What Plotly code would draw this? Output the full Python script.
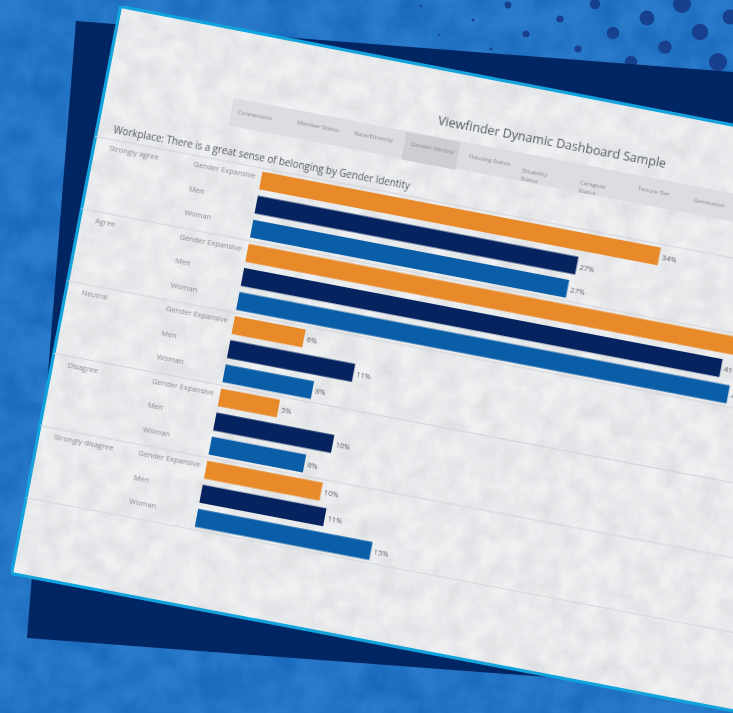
import plotly.graph_objects as go

W, H = 733, 713

responses = ["Strongly agree", "Agree", "Neutral", "Disagree", "Strongly disagree"]
genders = ["Gender Expansive", "Men", "Woman"]
gender_colors = ["#e8892a", "#04235f", "#0a5ea8"]
pct_strongly_agree = [33.8, 27.2, 26.8]
pct_agree = [45, 40.6, 41.6]
pct_neutral = [6, 10.6, 7.5]
pct_disagree = [5, 10, 8]
pct_strongly_disagree = [9.8, 10.5, 14.8]
pct_labels = ["34%", "27%", "27%", "45%", "41%", "42%", "6%", "11%", "8%", "5%", "10%", "8%", "10%", "11%", "15%"]
title_text = "Viewfinder Dynamic Dashboard Sample"
subtitle_text = "Workplace: There is a great sense of belonging by Gender Identity"
tab_labels = ["Connections", "Member Status", "Race/Ethnicity", "Gender Identity", "Housing Status",
              "Disability<br>Status", "Caregiver<br>Status", "Tenure Tier", "Generation"]
tab_u = [134, 194, 252, 310, 369, 424, 483, 541, 598]
tab_v = [76, 75, 75, 75, 76, 80, 81, 76, 77]

# background dots: page x, page y, radius
dot_x = [421, 473, 439, 491, 508, 560, 526, 578, 595, 647, 613, 665, 631, 682, 700, 718, 730]
dot_y = [6, 20, 35, 49, 5, 19, 34, 49, 4, 18, 33, 47, 62, 4, 32, 62, 17]
dot_r = [1.3, 1.5, 1.1, 1.6, 3.4, 3.6, 3.6, 3.6, 5.2, 7.5, 6.2, 6.6, 6.2, 9, 8.2, 9, 7.5]

values = pct_strongly_agree + pct_agree + pct_neutral + pct_disagree + pct_strongly_disagree
rows = [f"{r} | {g}" for r in responses for g in genders]
colors = [c for _ in responses for c in gender_colors]


def px(x):
    return x / W


def py(y):
    return 1 - y / H


def poly(points):
    return "M" + " L".join(f"{px(x):.5f},{py(y):.5f}" for x, y in points) + " Z"


X0, Y0, Y1 = 171, 132.7, 500.7   # plot area in the un-tilted card frame
SCALE = 12.0                     # px per percent
FONT = "Open Sans"
LABEL = "#8b8d90"

# ---- static backdrop, in page coordinates
shapes = [dict(type="rect", xref="paper", yref="paper", layer="below", x0=0, x1=1, y0=0, y1=1,
               fillcolor="#2a7ccb", line_width=0)]
for x, y, r in zip(dot_x, dot_y, dot_r):
    shapes.append(dict(type="circle", xref="paper", yref="paper", layer="below",
                       x0=px(x - r), x1=px(x + r), y0=py(y + r), y1=py(y - r),
                       fillcolor="#17418f", line_width=0))
shapes.append(dict(type="path", xref="paper", yref="paper", layer="below",
                   path=poly([(76, 21), (760, 74), (760, 693), (27, 638)]),
                   fillcolor="#002563", line_width=0))
shapes.append(dict(type="path", xref="paper", yref="paper", layer="below",
                   path=poly([(120.5, 6.5), (800, 138), (800, 723.5), (11.5, 573.5)]),
                   fillcolor="#eff0f2", line=dict(color="#0aa5e3", width=3.2)))

# ---- tilted with the card (paper refs here mean the un-tilted card frame)
shapes.append(dict(type="rect", xref="paper", yref="paper", layer="above",
                   x0=px(129), x1=px(733), y0=py(97), y1=py(69),
                   fillcolor="#dcdde0", line_width=0))
shapes.append(dict(type="rect", xref="paper", yref="paper", layer="above",
                   x0=px(305), x1=px(360), y0=py(98), y1=py(70),
                   fillcolor="#cdced1", line_width=0))
for sep in [-0.5, 2.5, 5.5, 8.5, 11.5, 14.5]:
    shapes.append(dict(type="line", xref="paper", yref="y", layer="above",
                       x0=0, x1=1, y0=sep, y1=sep,
                       line=dict(color="#d2d4d7", width=1)))

annotations = [
    dict(text=title_text, x=px(450), y=py(41.5), xref="paper", yref="paper", showarrow=False,
         font=dict(family=FONT, size=12.6, color="#575b61")),
    dict(text=subtitle_text, x=px(15), y=py(113), xref="paper", yref="paper", xanchor="left", showarrow=False,
         font=dict(family=FONT, size=9.9, color="#55595f")),
]
for i, r in enumerate(responses):
    annotations.append(dict(text=r, x=px(14), y=i * 3, yshift=4, xref="paper", yref="y", xanchor="left",
                            showarrow=False, font=dict(family=FONT, size=7.5, color=LABEL)))
for i, row in enumerate(rows):
    annotations.append(dict(text=genders[i % 3], x=px(100), y=i, yshift=4, xref="paper", yref="y", xanchor="left",
                            showarrow=False, font=dict(family=FONT, size=7.5, color=LABEL)))
for u, v, t in zip(tab_u, tab_v, tab_labels):
    annotations.append(dict(text=t, x=px(u), y=py(v), xref="paper", yref="paper", xanchor="left", align="left",
                            showarrow=False, font=dict(family=FONT, size=6, color="#8a8c90")))

fig = go.Figure(go.Bar(
    x=values, y=rows, orientation="h", marker=dict(color=colors, line_width=0),
    text=pct_labels, textposition="outside", cliponaxis=False, width=0.74,
    textfont=dict(family=FONT, size=7.5, color="#5a5d61"), hoverinfo="skip",
))
fig.update_layout(
    width=W, height=H, margin=dict(l=0, r=0, t=0, b=0), showlegend=False,
    paper_bgcolor="#2378c8", plot_bgcolor="rgba(0,0,0,0)",
    xaxis=dict(domain=[X0 / W, 1], range=[0, (W - X0) / SCALE], visible=False),
    yaxis=dict(domain=[py(Y1), py(Y0)], type="category", categoryorder="array", categoryarray=rows,
               range=[14.5, -0.5], visible=False),
    shapes=shapes, annotations=annotations,
)

post = """
document.documentElement.style.overflow = 'hidden';
document.body.style.margin = '0';
var root = document.getElementById('{plot_id}');
var blurs = {'.cartesianlayer': 0.6, '.layer-above': 0.7, '.infolayer': 0.7};
Object.keys(blurs).forEach(function (sel) {
  root.querySelectorAll(sel).forEach(function (el) {
    el.setAttribute('transform', 'translate(120,6) rotate(10.8)');
    el.style.filter = 'blur(' + blurs[sel] + 'px)';
  });
});
var svg = root.querySelector('svg.main-svg');
var defs = svg.querySelector('defs');
function mottle(id, freq, r, g, b, k, o, seed) {
  return '<filter id="' + id + '" x="0" y="0" width="1" height="1" color-interpolation-filters="sRGB">' +
    '<feTurbulence type="fractalNoise" baseFrequency="' + freq + '" numOctaves="5" seed="' + seed + '" result="n"/>' +
    '<feColorMatrix in="n" type="matrix" values="0 0 0 0 ' + r + ' 0 0 0 0 ' + g + ' 0 0 0 0 ' + b + ' ' + k + ' 0 0 0 ' + o + '" result="c"/>' +
    '<feComposite in="c" in2="SourceGraphic" operator="in" result="m"/>' +
    '<feMerge><feMergeNode in="SourceGraphic"/><feMergeNode in="m"/></feMerge></filter>';
}
defs.insertAdjacentHTML('beforeend',
  mottle('cardMottle', 0.05, 0.55, 0.55, 0.56, 0.28, -0.08, 4) +
  mottle('blueMottle', 0.03, 0.0, 0.3, 0.65, 0.8, -0.25, 9));
var low = svg.querySelectorAll('.layer-below path');
if (low.length) {
  low[0].setAttribute('filter', 'url(#blueMottle)');
  low[low.length - 1].setAttribute('filter', 'url(#cardMottle)');
}
"""
fig.write_html("out.html", post_script=post, config={"displayModeBar": False})
